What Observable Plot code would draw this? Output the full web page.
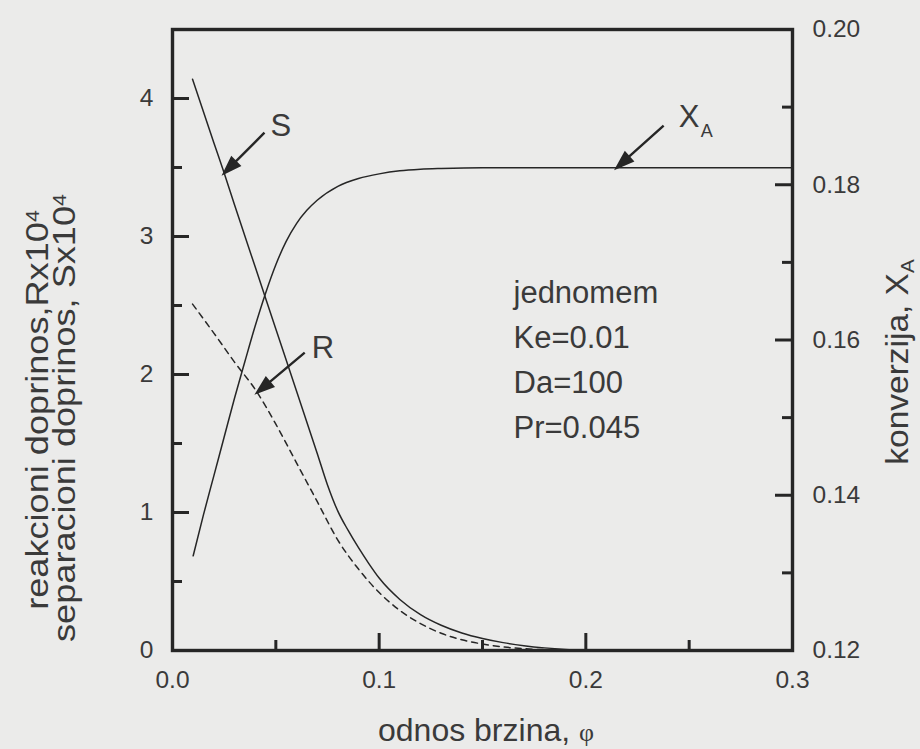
<!DOCTYPE html>
<html>
<head>
<meta charset="utf-8">
<script src="https://cdn.jsdelivr.net/npm/d3@7"></script>
<script src="https://cdn.jsdelivr.net/npm/@observablehq/plot@0.6"></script>
<style>
  html, body { margin: 0; padding: 0; background: #ebebea; }
  #chart { width: 920px; height: 749px; }
</style>
</head>
<body>
<div id="chart"></div>
<script>
// Separation contribution S (x10^4) vs. velocity ratio φ
const sPhi = [0.0097, 0.02, 0.025, 0.03, 0.04, 0.05, 0.06, 0.07, 0.075, 0.08, 0.085, 0.09, 0.095, 0.1, 0.11, 0.12, 0.13, 0.14, 0.15, 0.16, 0.17, 0.18, 0.19, 0.2];
const sVal = [4.14, 3.68, 3.46, 3.23, 2.78, 2.33, 1.88, 1.43, 1.20, 1.01, 0.87, 0.745, 0.63, 0.525, 0.37, 0.26, 0.183, 0.127, 0.087, 0.057, 0.035, 0.019, 0.008, 0.002];

// Reaction contribution R (x10^4)
const rPhi = [0.0097, 0.02, 0.03, 0.041, 0.05, 0.06, 0.07, 0.08, 0.09, 0.1, 0.11, 0.12, 0.13, 0.14, 0.15, 0.16, 0.17, 0.18, 0.19, 0.2];
const rVal = [2.51, 2.30, 2.09, 1.87, 1.64, 1.36, 1.08, 0.80, 0.59, 0.42, 0.29, 0.195, 0.125, 0.078, 0.047, 0.026, 0.013, 0.006, 0.002, 0.0005];

// Conversion X_A (right axis)
const xaPhi = [0.01, 0.015, 0.02, 0.025, 0.03, 0.035, 0.04, 0.045, 0.05, 0.055, 0.06, 0.065, 0.07, 0.08, 0.09, 0.1, 0.11, 0.12, 0.13, 0.15, 0.215, 0.3];
const xaVal = [0.1322, 0.1375, 0.1425, 0.1475, 0.1525, 0.1572, 0.1618, 0.1660, 0.1697, 0.1727, 0.1750, 0.1767, 0.1780, 0.1798, 0.1808, 0.1814, 0.1818, 0.1820, 0.1821, 0.1822, 0.1822, 0.1822];

// Axis ticks
const xMajor = [0, 0.1, 0.2, 0.3];
const xMinor = [0.05, 0.15, 0.25];
const yMajor = [0, 1, 2, 3, 4];
const yMinor = [0.5, 1.5, 2.5, 3.5];
const rMajor = [0.12, 0.14, 0.16, 0.18, 0.20];
const rMinor = [0.13, 0.15, 0.17, 0.19];

// Parameter box text
const paramLines = ["jednomem", "Ke=0.01", "Da=100", "Pr=0.045"];

// Curve labels and the φ where each arrow touches its curve
const labelNames = ["S", "R", "X"];
const labelPhi = [0.025, 0.041, 0.215];

// ---- drawing ----
const S = sPhi.map((x, i) => ({x, y: sVal[i]}));
const R = rPhi.map((x, i) => ({x, y: rVal[i]}));
const XA = xaPhi.map((x, i) => ({x, v: xaVal[i]}));

const leftDomain = [0, 4.5];
const rightDomain = [0.12, 0.20];
// map a conversion value onto the left scale (both axes span the same height)
const toLeft = v => (v - rightDomain[0]) / (rightDomain[1] - rightDomain[0]) * leftDomain[1];
const fromLeft = y => y / leftDomain[1] * (rightDomain[1] - rightDomain[0]) + rightDomain[0];

const W = 920, H = 749, mL = 172, mR = 128, mT = 29, mB = 99;
const frameW = W - mL - mR, frameH = H - mT - mB;
const ink = "#262626";
const textInk = "#3a3a3a";
const font = "'Liberation Sans', Arial, Helvetica, sans-serif";
const majorLen = 17, minorLen = 10;

// arrow: shaft with a filled head at the tip
const arrowShape = {
  draw(ctx, l) {
    const h = 16, w = 5.5;
    ctx.moveTo(0, 0);
    ctx.lineTo(0, -(l - h + 3));
    ctx.moveTo(0, -l);
    ctx.lineTo(w, -l + h);
    ctx.lineTo(-w, -l + h);
    ctx.closePath();
  }
};

const seriesFor = {
  S: S.map(d => ({x: d.x, y: d.y})),
  R: R.map(d => ({x: d.x, y: d.y})),
  X: XA.map(d => ({x: d.x, y: toLeft(d.v)}))
};
// arrow length (px), direction (deg, clockwise from up) and label offset from the arrow tail
const arrowStyle = {
  S: {len: 57, rot: 225, lab: [6, -7]},
  R: {len: 62, rot: 230, lab: [7, -5]},
  X: {len: 63, rot: 228, lab: [15, -8]}
};

const annotationMarks = [];
labelNames.forEach((name, i) => {
  const tip = seriesFor[name].find(d => d.x === labelPhi[i]);
  const st = arrowStyle[name];
  const rad = st.rot * Math.PI / 180;
  const tx = -st.len * Math.sin(rad), ty = st.len * Math.cos(rad); // tail relative to tip
  annotationMarks.push(
    Plot.vector([tip], {x: "x", y: "y", length: st.len, rotate: st.rot, anchor: "end",
      shape: arrowShape, stroke: ink, fill: ink, strokeWidth: 2.4, strokeLinecap: "butt", strokeLinejoin: "miter"}),
    Plot.text([tip], {x: "x", y: "y", text: () => name, textAnchor: "start", fontSize: 31,
      fill: textInk, dx: tx + st.lab[0], dy: ty + st.lab[1]})
  );
  if (name === "X") {
    annotationMarks.push(
      Plot.text([tip], {x: "x", y: "y", text: () => "A", textAnchor: "start", fontSize: 18,
        fill: textInk, dx: tx + 37, dy: ty + 6})
    );
  }
});

const chart = Plot.plot({
  width: W, height: H,
  marginLeft: mL, marginRight: mR, marginTop: mT, marginBottom: mB,
  style: {background: "#ebebea", fontFamily: font, fontSize: "24.5px", color: textInk},
  x: {domain: [0, 0.3]},
  y: {domain: leftDomain},
  marks: [
    Plot.line(S, {x: "x", y: "y", curve: "monotone-x", stroke: ink, strokeWidth: 1.5}),
    Plot.line(R, {x: "x", y: "y", curve: "monotone-x", stroke: ink, strokeWidth: 1.5, strokeDasharray: "6,5"}),
    Plot.line(XA, {x: "x", y: d => toLeft(d.v), curve: "monotone-x", stroke: ink, strokeWidth: 1.5}),

    // inward ticks
    Plot.tickX(xMajor, {x: d => d, insetTop: frameH - majorLen, stroke: ink, strokeWidth: 3}),
    Plot.tickX(xMinor, {x: d => d, insetTop: frameH - minorLen, stroke: ink, strokeWidth: 3}),
    Plot.tickY(yMajor, {y: d => d, insetRight: frameW - majorLen, stroke: ink, strokeWidth: 3}),
    Plot.tickY(yMinor, {y: d => d, insetRight: frameW - minorLen, stroke: ink, strokeWidth: 3}),
    Plot.tickY(rMajor, {y: d => toLeft(d), insetLeft: frameW - majorLen, stroke: ink, strokeWidth: 3}),
    Plot.tickY(rMinor, {y: d => toLeft(d), insetLeft: frameW - minorLen, stroke: ink, strokeWidth: 3}),

    Plot.frame({stroke: ink, strokeWidth: 3.4}),

    // tick labels
    Plot.axisX(xMajor, {tickSize: 0, tickPadding: 20, tickFormat: d3.format(".1f"), label: null}),
    Plot.axisY(yMajor, {anchor: "left", tickSize: 0, tickPadding: 19, tickFormat: d3.format("d"), label: null}),
    Plot.axisY(rMajor.map(toLeft), {anchor: "right", tickSize: 0, tickPadding: 20,
      tickFormat: d => d3.format(".2f")(fromLeft(d)), label: null}),

    // parameter block
    Plot.text([paramLines.join("\n")], {frameAnchor: "top-left", dx: 341, dy: 242, textAnchor: "start",
      lineAnchor: "top", lineHeight: 45 / 31, fontSize: 31, fill: textInk}),

    ...annotationMarks
  ]
});

document.getElementById("chart").appendChild(chart);

// axis titles (with super/subscripts)
const svg = d3.select(chart);
const titles = svg.append("g").attr("fill", textInk).attr("font-family", font);

const xt = titles.append("text").attr("x", 486).attr("y", 741).attr("text-anchor", "middle").attr("font-size", 32);
xt.append("tspan").text("odnos brzina, ");
xt.append("tspan").attr("font-family", "'Liberation Serif', 'DejaVu Serif', serif").attr("font-size", 26).text("φ");

const l1 = titles.append("text").attr("transform", "translate(48,410) rotate(-90) scale(1.13,1)")
  .attr("text-anchor", "middle").attr("font-size", 32);
l1.append("tspan").text("reakcioni doprinos,Rx10");
l1.append("tspan").attr("dy", "-0.45em").attr("font-size", 19).text("4");

const l2 = titles.append("text").attr("transform", "translate(75,418) rotate(-90) scale(1.13,1)")
  .attr("text-anchor", "middle").attr("font-size", 32);
l2.append("tspan").text("separacioni doprinos, Sx10");
l2.append("tspan").attr("dy", "-0.45em").attr("font-size", 19).text("4");

const rt = titles.append("text").attr("transform", "translate(908,362) rotate(-90) scale(1.08,1)")
  .attr("text-anchor", "middle").attr("font-size", 31);
rt.append("tspan").text("konverzija, X");
rt.append("tspan").attr("dy", "0.3em").attr("font-size", 19).text("A");
</script>
</body>
</html>
